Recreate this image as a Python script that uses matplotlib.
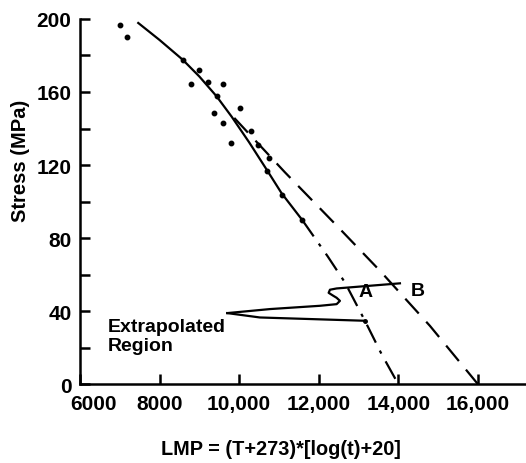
import matplotlib
matplotlib.use('Agg')
import matplotlib.pyplot as plt
import matplotlib.transforms as mtransforms
from matplotlib import font_manager

names = [f.name for f in font_manager.fontManager.ttflist]
if 'Liberation Sans Narrow' in names:
    fam = ['Liberation Sans Narrow', 'DejaVu Sans']
else:
    fam = ['Liberation Sans', 'DejaVu Sans']
plt.rcParams['font.family'] = fam
plt.rcParams['font.weight'] = 'bold'

# measured rupture data
lmp_pts = [7005, 7181, 8581, 8797, 8983, 9224, 9586, 9435, 9375, 9586,
           9802, 10013, 10290, 10466, 10742, 10692, 11069, 11586]
stress_pts = [196.9, 190.0, 177.7, 164.4, 172.1, 165.6, 164.4, 157.6, 148.3, 142.8,
              132.1, 151.2, 138.8, 131.1, 123.8, 116.9, 103.6, 89.9]

# fitted curve over the data
fit_lmp = [7465, 8000, 8581, 9000, 9435, 9812, 10250, 10692, 11069, 11586]
fit_stress = [197.8, 188.5, 177.7, 168.5, 157.6, 146.5, 132.5, 117.5, 104.5, 89.9]

# curve A (extrapolated)
a_lmp = [11586, 12225, 12659, 13162, 13581, 14000]
a_stress = [89.9, 70.0, 55.7, 34.7, 16.4, 0]

# curve B (extrapolated)
b_lmp = [9878, 11152, 12400, 13539, 14796, 16000]
b_stress = [145.8, 116.0, 88.0, 62.1, 31.9, 0]

# leader lines of the "Extrapolated Region" note
lead_lo_x = [9702, 10523, 13162]
lead_lo_y = [38.9, 36.5, 34.7]
lead_up_x = [9702, 10775, 12031, 12451, 12534, 12450, 12366, 12250, 12283, 12451, 14042]
lead_up_y = [38.9, 41.1, 42.9, 43.8, 45.6, 47.3, 48.4, 50.0, 51.7, 52.4, 55.2]

fig = plt.figure(figsize=(5.26, 4.64), dpi=100)
ax = fig.add_axes([0.152, 0.170, 0.848, 0.787])

ax.plot(fit_lmp, fit_stress, color='black', lw=1.6)
ax.plot(a_lmp, a_stress, color='black', lw=1.6, dashes=[9, 4, 1.5, 4])
ax.plot(b_lmp, b_stress, color='black', lw=1.6, dashes=[9, 5])
ax.plot(lmp_pts, stress_pts, 'o', color='black', ms=3.2)
ax.plot(lead_lo_x, lead_lo_y, color='black', lw=1.6)
ax.plot(lead_up_x, lead_up_y, color='black', lw=1.6)
ax.plot([13162], [34.7], 'o', color='black', ms=2.5)

ax.text(13187, 50.6, 'A', fontsize=14, fontweight='bold', ha='center', va='center')
ax.text(14477, 51.1, 'B', fontsize=14, fontweight='bold', ha='center', va='center')
ax.text(6711, 36.0, 'Extrapolated\nRegion', fontsize=14, fontweight='bold',
        ha='left', va='top', linespacing=1.15)

ax.set_xlim(6000, 17210)
ax.set_ylim(0, 200)
ax.spines['top'].set_visible(False)
ax.spines['right'].set_visible(False)
for s in ['left', 'bottom']:
    ax.spines[s].set_linewidth(1.8)

xt = [6000, 8000, 10000, 12000, 14000, 16000]
xl = ['6000', '8000', '10,000', '12,000', '14,000', '16,000']
ax.set_xticks(xt)
ax.set_xticklabels(xl)
yt = list(range(0, 201, 20))
ax.set_yticks(yt)
ax.set_yticklabels([str(v) if v % 40 == 0 else '' for v in yt])
ax.tick_params(direction='in', length=7.5, width=1.8, labelsize=15)
ax.tick_params(axis='x', pad=7)
ax.tick_params(axis='y', pad=6)

# first x label sits a bit right, clear of the 0
lab0 = ax.get_xticklabels()[0]
lab0.set_transform(lab0.get_transform() + mtransforms.ScaledTranslation(0.14, 0, fig.dpi_scale_trans))

fig.text(21 / 526, 1 - 161 / 464, 'Stress (MPa)', fontsize=14.5, fontweight='bold',
         rotation=90, ha='center', va='center')
fig.text(281 / 526, 1 - 450 / 464, 'LMP = (T+273)*[log(t)+20]', fontsize=14.3,
         fontweight='bold', ha='center', va='center')

plt.savefig('out.png', dpi=100)
